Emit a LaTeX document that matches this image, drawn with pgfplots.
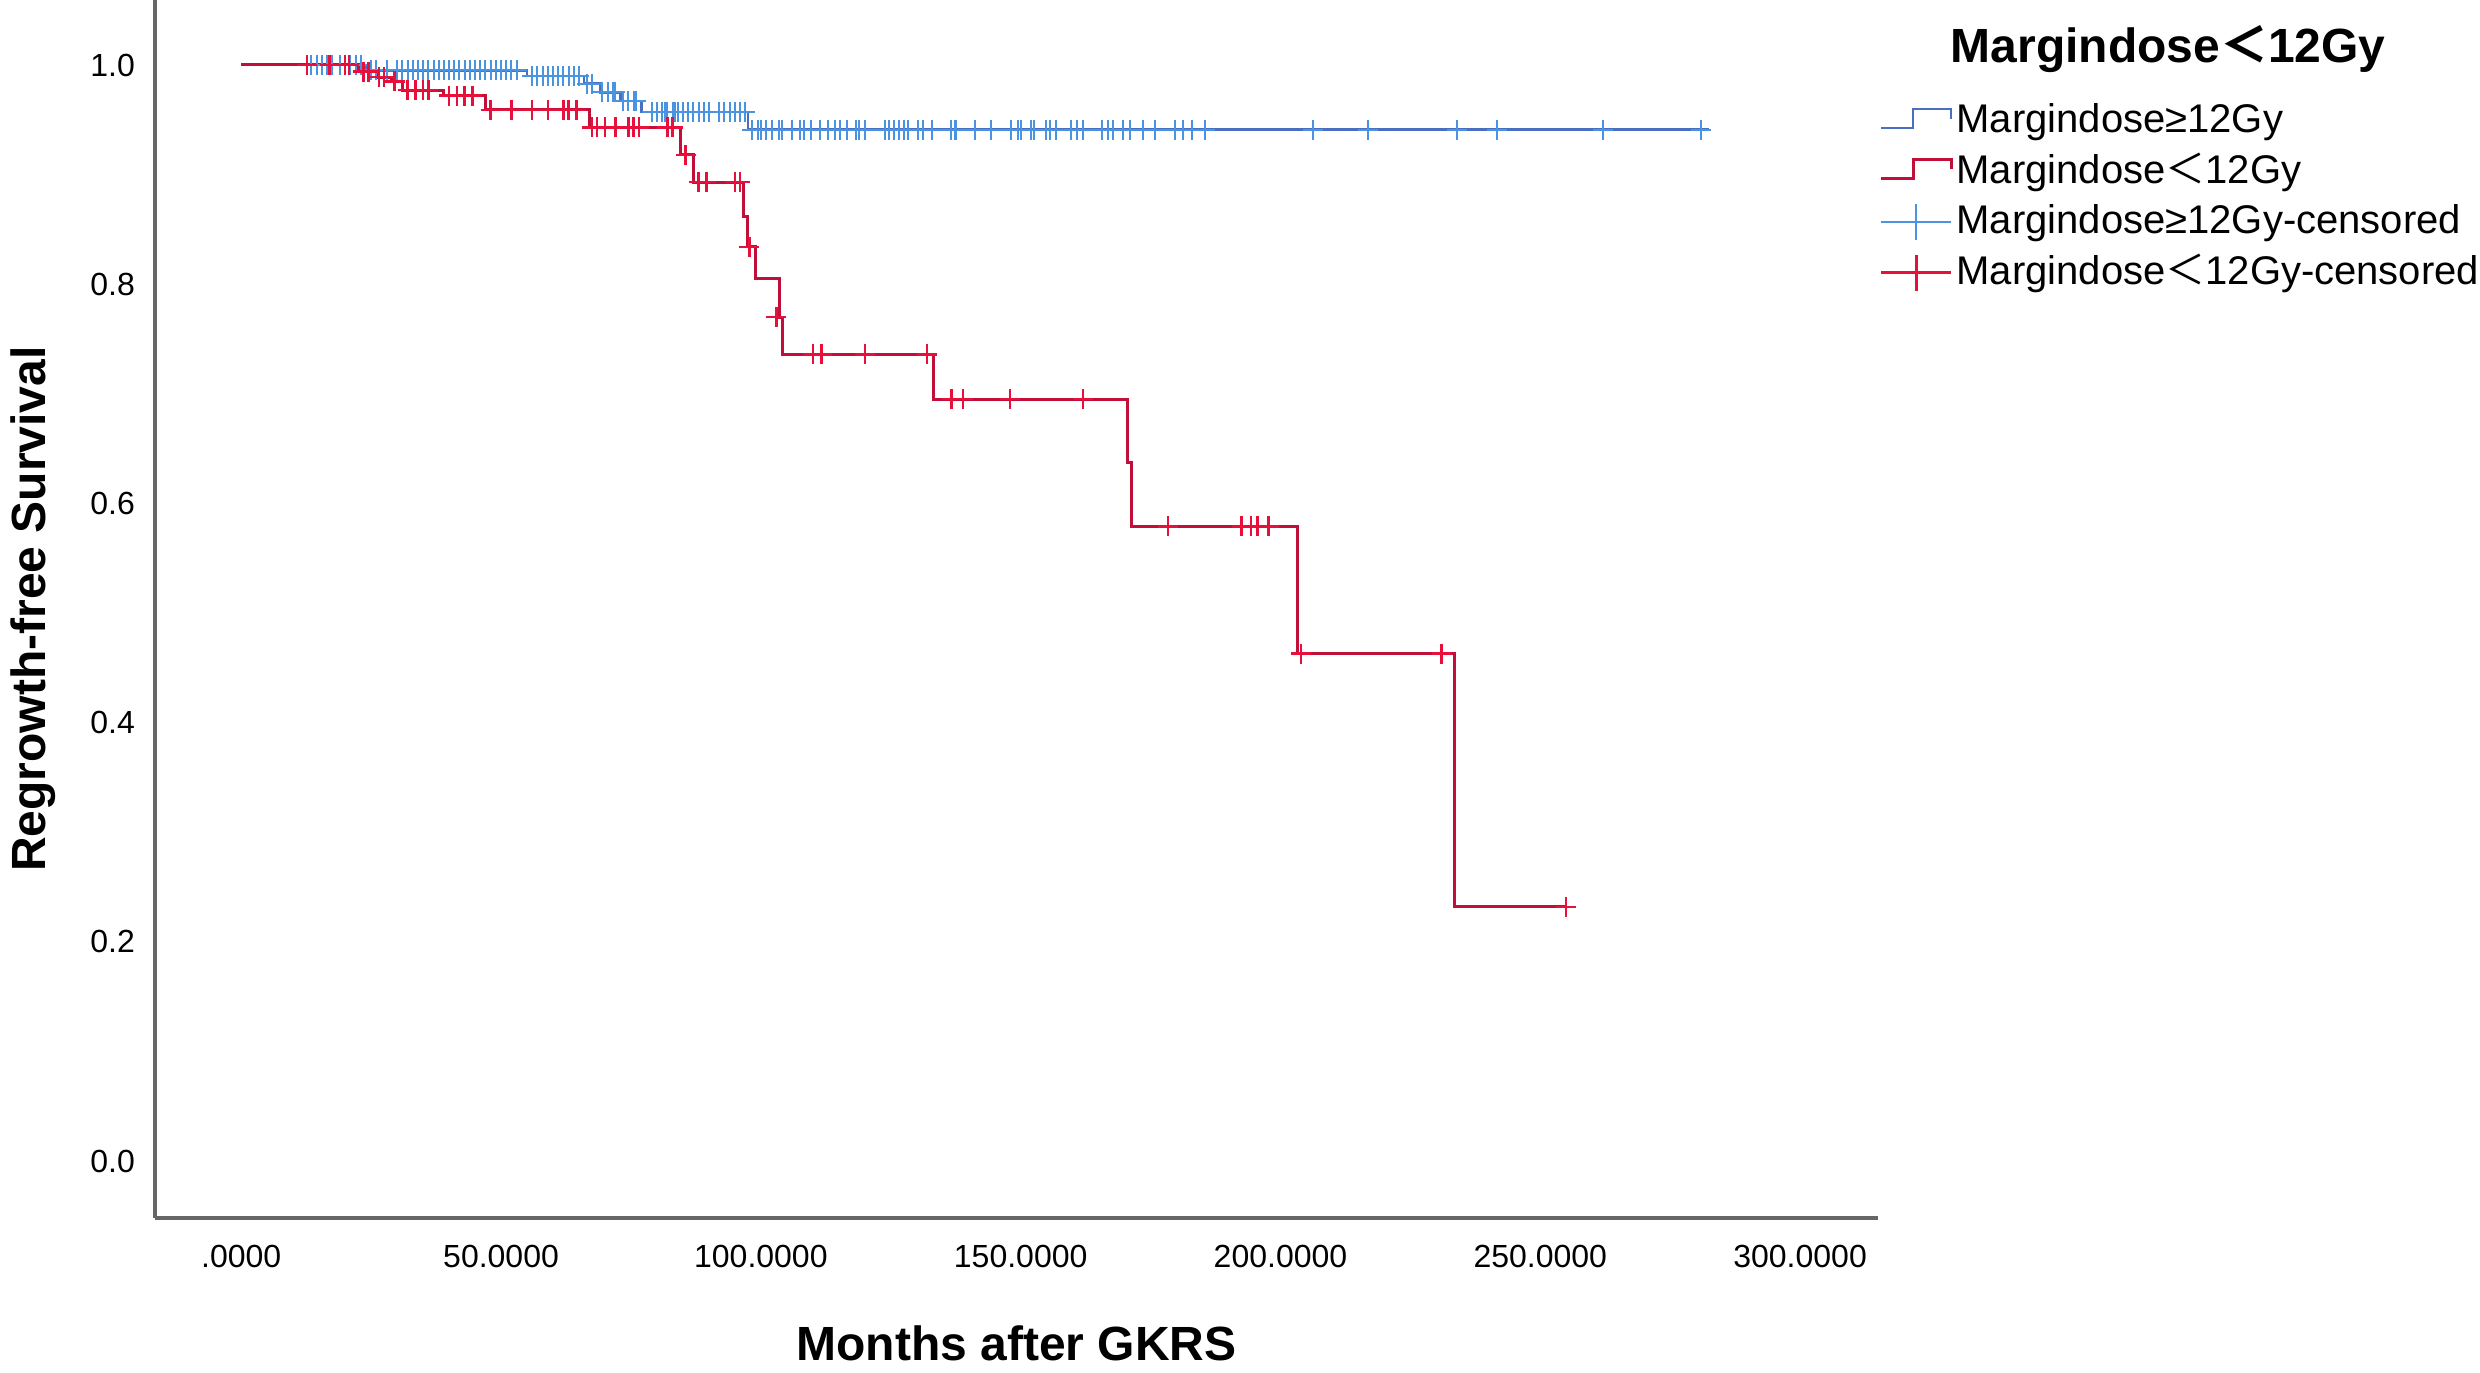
\documentclass[border=0pt]{standalone}
\usepackage{pgfplots}
\pgfplotsset{compat=1.18}
\usepackage{fontspec}
\setmainfont{Liberation Sans}
\newfontfamily\cjk{Noto Sans CJK SC}
\newcommand{\lt}{{\cjk ＜}}
\definecolor{bline}{HTML}{4A6FC0}
\definecolor{bmark}{HTML}{4A93E0}
\definecolor{rline}{HTML}{C0103A}
\definecolor{rmark}{HTML}{E8103A}
\definecolor{axgray}{HTML}{666666}

\begin{document}
\begin{tikzpicture}
\useasboundingbox (0,0) rectangle (620pt,343pt);
\begin{axis}[
  at={(38.75pt,38.5pt)}, anchor=south west,
  scale only axis, width=430.75pt, height=304.5pt,
  xmin=-16.6, xmax=315, ymin=-0.052, ymax=1.0593,
  axis lines=left,
  axis line style={axgray, line width=0.8pt, -},
  xtick={0,50,100,150,200,250,300},
  xticklabels={.0000,50.0000,100.0000,150.0000,200.0000,250.0000,300.0000},
  ytick={0,0.2,0.4,0.6,0.8,1},
  yticklabels={0.0,0.2,0.4,0.6,0.8,1.0},
  major tick length=0pt,
  tick label style={font=\fontsize{8}{9.6}\selectfont},
  yticklabel style={xshift=-1.5pt},
  xticklabel style={yshift=-3.2pt},
  xlabel={Months after GKRS},
  ylabel={Regrowth-free Survival},
  xlabel style={font=\fontsize{12}{14}\selectfont\bfseries, at={(axis description cs:0.5,-0.1166)}, anchor=base},
  ylabel style={font=\fontsize{12}{14}\selectfont\bfseries, at={(axis description cs:-0.0638,0.5)}, anchor=base},
  title={\bfseries Margindose\lt 12Gy},
  title style={at={(axis description cs:1.0418,0.9286)}, anchor=base west, font=\fontsize{12}{14}\selectfont, inner sep=0pt},
  legend style={at={(axis description cs:1.0004,0.919)}, anchor=north west, draw=none, fill=none, inner sep=0pt, row sep=1.7pt,
    font=\fontsize{10}{12}\selectfont, nodes={inner sep=1pt}},
  legend cell align=left,
]
% legend images
\addlegendimage{legend image code/.code={\draw[bline, line width=0.6pt] (0pt,-1.8pt) -- (8pt,-1.8pt) -- (8pt,3pt) -- (17.5pt,3pt) -- (17.5pt,0.5pt);}}
\addlegendentry{Margindose≥12Gy}
\addlegendimage{legend image code/.code={\draw[rline, line width=0.75pt] (0pt,-1.8pt) -- (8pt,-1.8pt) -- (8pt,3pt) -- (17.5pt,3pt) -- (17.5pt,0.5pt);}}
\addlegendentry{Margindose\lt 12Gy}
\addlegendimage{legend image code/.code={\draw[bmark, line width=0.6pt] (0pt,0pt) -- (17.5pt,0pt); \draw[bmark, line width=0.6pt] (8.75pt,-4.5pt) -- (8.75pt,4.5pt);}}
\addlegendentry{Margindose≥12Gy-censored}
\addlegendimage{legend image code/.code={\draw[rmark, line width=0.75pt] (0pt,0pt) -- (17.5pt,0pt); \draw[rmark, line width=0.75pt] (8.75pt,-4.5pt) -- (8.75pt,4.5pt);}}
\addlegendentry{Margindose\lt 12Gy-censored}

% Margindose >= 12Gy: survival steps
\addplot[const plot, bline, line width=0.6pt, forget plot] coordinates {
(0,1) (24,0.995) (55,0.99) (66,0.983) (69,0.975) (73,0.967) (77,0.957) (97.5,0.941) (282.5,0.941)
};
% Margindose >= 12Gy: censored
\addplot[only marks, mark=+, mark size=2.5pt, bmark, line width=0.5pt, forget plot] coordinates {
(13.5,1) (14.5,1) (15.5,1) (16.5,1) (17.5,1) (19,1) (20,1) (21,1) (22,1) (23,1)
(25,0.995) (26,0.995) (28,0.995) (30,0.995) (31,0.995) (32,0.995) (33,0.995) (34,0.995) (35,0.995) (36,0.995)
(37,0.995) (38,0.995) (39,0.995) (40,0.995) (41,0.995) (42,0.995) (43,0.995) (44,0.995) (45,0.995) (46,0.995)
(47,0.995) (48,0.995) (49,0.995) (50,0.995) (51,0.995) (52,0.995) (53,0.995)
(56,0.99) (57,0.99) (58,0.99) (59,0.99) (60,0.99) (61,0.99) (62,0.99) (63,0.99) (64,0.99) (65,0.99)
(66.5,0.983) (67.5,0.983)
(69.5,0.975) (70.5,0.975) (71.5,0.975) (72,0.975)
(73.5,0.967) (74.5,0.967) (75.5,0.967) (76,0.967)
(79,0.957) (80,0.957) (81,0.957) (81.5,0.957) (82,0.957) (83,0.957) (83.5,0.957) (84,0.957) (85,0.957) (86,0.957)
(87,0.957) (88,0.957) (89,0.957) (90,0.957) (92,0.957) (93,0.957) (94,0.957) (95,0.957) (96,0.957) (97,0.957)
(98.3,0.941) (99.4,0.941) (100,0.941) (101,0.941) (102.2,0.941) (103.5,0.941) (104,0.941) (106,0.941) (107.6,0.941)
(108.3,0.941) (109.7,0.941) (111.3,0.941) (113,0.941) (114.3,0.941) (115.3,0.941) (116.6,0.941) (118.3,0.941) (118.9,0.941)
(120,0.941) (123.8,0.941) (124.7,0.941) (125.7,0.941) (126.6,0.941) (127.6,0.941) (128.4,0.941) (130.3,0.941) (131.2,0.941)
(133,0.941) (136.6,0.941) (137.3,0.941) (137.6,0.941) (141.3,0.941) (144.2,0.941) (148.2,0.941) (149.4,0.941) (150,0.941)
(151.9,0.941) (152.5,0.941) (154.9,0.941) (155.6,0.941) (156.8,0.941) (159.7,0.941) (160.8,0.941) (162,0.941) (165.6,0.941)
(166.8,0.941) (167.8,0.941) (169.6,0.941) (171,0.941) (173.6,0.941) (175.9,0.941) (179.7,0.941) (181.3,0.941) (183,0.941)
(185.5,0.941) (206.2,0.941) (216.8,0.941) (234,0.941) (241.7,0.941) (262,0.941) (281,0.941)
};
% Margindose < 12Gy: survival steps
\addplot[const plot, rline, line width=0.75pt, forget plot] coordinates {
(0,1) (22.6,0.994) (26,0.989) (29,0.985) (31,0.977) (39,0.972) (47,0.959) (67,0.943) (84.5,0.918) (87,0.893)
(96.7,0.862) (97.5,0.834) (99,0.805) (103.5,0.77) (104.2,0.736) (133.3,0.695) (170.5,0.637) (171.3,0.579)
(203.3,0.463) (233.5,0.232) (255,0.232)
};
% Margindose < 12Gy: censored
\addplot[only marks, mark=+, mark size=2.5pt, rmark, line width=0.6pt, forget plot] coordinates {
(12.7,1) (17,1) (20,1) (20.7,1)
(23.5,0.994) (24.5,0.994)
(26.5,0.989) (27.5,0.989)
(29.5,0.985)
(32,0.977) (33.5,0.977) (35,0.977) (36,0.977)
(40,0.972) (41.5,0.972) (43,0.972) (44.5,0.972)
(48,0.959) (52,0.959) (56,0.959) (59,0.959) (62,0.959) (63,0.959) (64.5,0.959)
(67.5,0.943) (68.5,0.943) (70,0.943) (72,0.943) (74.5,0.943) (75.5,0.943) (76.5,0.943) (82,0.943) (83,0.943)
(85.5,0.918)
(88,0.893) (89.5,0.893) (95,0.893) (96,0.893)
(97.8,0.834)
(103,0.77)
(110,0.736) (111.7,0.736) (120,0.736) (132,0.736)
(136.7,0.695) (138.9,0.695) (148,0.695) (162,0.695)
(178.4,0.579) (192.5,0.579) (194.3,0.579) (195.6,0.579) (197.7,0.579)
(204,0.463) (231,0.463)
(255,0.232)
};
\end{axis}
\end{tikzpicture}
\end{document}
